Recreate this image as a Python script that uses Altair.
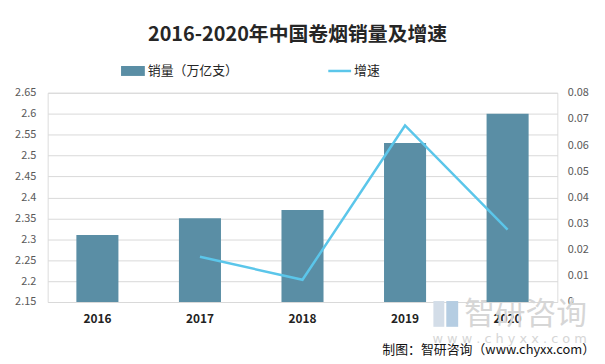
import altair as alt
import pandas as pd

years = ["2016", "2017", "2018", "2019", "2020"]
sales = [2.31, 2.35, 2.37, 2.53, 2.60]
growth = [None, 0.0173, 0.0085, 0.0675, 0.0277]

title_text = "2016-2020年中国卷烟销量及增速"
legend_bar = "销量（万亿支）"
legend_line = "增速"
source_text = "制图：智研咨询（www.chyxx.com）"

BAR_COLOR = "#5a8ea5"
LINE_COLOR = "#5bc6ea"
FONT = "Noto Sans CJK SC"

df = pd.DataFrame({"year": years, "sales": sales, "growth": growth, "base": [2.15] * 5})
df_line = df.dropna(subset=["growth"])

W, H = 514, 211

xenc = alt.X("year:N", sort=years,
             scale=alt.Scale(paddingInner=0.59, paddingOuter=0.28),
             axis=alt.Axis(title=None, labelAngle=0, labelFont=FONT, labelFontWeight="bold",
                           labelFontSize=12, labelColor="#222222", labelPadding=12,
                           domain=False, ticks=False, grid=False))

bars = alt.Chart(df).mark_bar(color=BAR_COLOR).encode(
    x=xenc,
    y=alt.Y("sales:Q", scale=alt.Scale(domain=[2.15, 2.65], nice=False, zero=False),
            axis=alt.Axis(title=None, values=[2.15, 2.2, 2.25, 2.3, 2.35, 2.4, 2.45, 2.5, 2.55, 2.6, 2.65],
                          labelFont=FONT, labelFontSize=11, labelColor="#595959", labelPadding=12,
                          domain=False, ticks=False, gridColor="#d9d9d9", format="~g")),
    y2="base:Q",
)

line = alt.Chart(df_line).mark_line(color=LINE_COLOR, strokeWidth=2.5).encode(
    x=alt.X("year:N", sort=years),
    y=alt.Y("growth:Q", scale=alt.Scale(domain=[0, 0.08], nice=False),
            axis=alt.Axis(title=None, orient="right", values=[0, 0.01, 0.02, 0.03, 0.04, 0.05, 0.06, 0.07, 0.08],
                          labelFont=FONT, labelFontSize=11, labelColor="#595959", labelPadding=10,
                          domain=False, ticks=False, grid=False, format="~g")),
)

one = pd.DataFrame({"k": [0]})

def text(t, x, y, size, color, weight="normal", align="left", font=FONT):
    return alt.Chart(one).mark_text(text=t, fontSize=size, color=color, fontWeight=weight,
                                    align=align, baseline="middle", font=font).encode(
        x=alt.value(x), y=alt.value(y))

title = text(title_text, 252, -58, 20, "#262626", weight="bold", align="center")
leg_bar = alt.Chart(one).mark_rect(color=BAR_COLOR).encode(
    x=alt.value(74), x2=alt.value(98), y=alt.value(-27), y2=alt.value(-17))
leg_bar_t = text(legend_bar, 101, -22, 13, "#262626")
leg_line = alt.Chart(one).mark_rule(color=LINE_COLOR, strokeWidth=2.5).encode(
    x=alt.value(283), x2=alt.value(306), y=alt.value(-22))
leg_line_t = text(legend_line, 309, -22, 13, "#262626")

wm1 = text("智研咨询", 420, 224, 31, "#d6d6d6", align="left")
wm2 = alt.Chart(one).mark_text(text="w w w . c h y x x . c o m", fontSize=13, color="#d6d6d6",
                               align="left", baseline="middle", font="DejaVu Sans").encode(
    x=alt.value(388), y=alt.value(248))
logo1 = alt.Chart(one).mark_rect(color="#d3dde8").encode(
    x=alt.value(389), x2=alt.value(400), y=alt.value(210), y2=alt.value(236))
logo2 = alt.Chart(one).mark_rect(color="#b5cde2").encode(
    x=alt.value(402), x2=alt.value(414), y=alt.value(210), y2=alt.value(236))
src = text(source_text, 552, 259, 13, "#111111", align="right")

chart = alt.layer(logo1, logo2, wm1, wm2, bars, line, title, leg_bar, leg_bar_t, leg_line, leg_line_t,
                  src).resolve_scale(y="independent").properties(
    width=W, height=H,
    autosize=alt.AutoSizeParams(type="none"),
    padding={"left": 40, "top": 84, "right": 40, "bottom": 62},
).configure_view(stroke=None).configure(background="white")

chart.save("out.html", embed_options={"renderer": "svg", "actions": False})
